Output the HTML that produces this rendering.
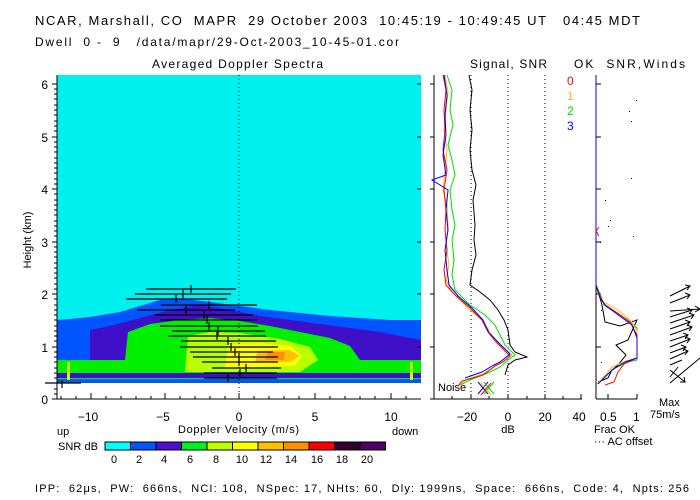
<!DOCTYPE html>
<html><head><meta charset="utf-8"><style>
body{margin:0;background:#fff}
svg{display:block;font-family:"Liberation Sans",sans-serif;font-size:12px}
text{white-space:pre}
</style></head><body>
<svg width="700" height="500" viewBox="0 0 700 500" xmlns="http://www.w3.org/2000/svg" xml:space="preserve">
<rect width="700" height="500" fill="#fff"/>
<text x="35" y="25" font-size="13" textLength="605" lengthAdjust="spacing">NCAR, Marshall, CO  MAPR  29 October 2003  10:45:19 - 10:49:45 UT   04:45 MDT</text>
<text x="35" y="46" font-size="12" textLength="364" lengthAdjust="spacing">Dwell  0 -  9   /data/mapr/29-Oct-2003_10-45-01.cor</text>
<text x="152" y="68" textLength="171" lengthAdjust="spacing">Averaged Doppler Spectra</text>
<text x="470" y="68" textLength="77" lengthAdjust="spacing">Signal, SNR</text>
<text x="574" y="68" textLength="111" lengthAdjust="spacing">OK  SNR,Winds</text>
<text x="567" y="85" fill="#f00">0</text>
<text x="567" y="100" fill="#fb0">1</text>
<text x="567" y="115" fill="#0d0">2</text>
<text x="567" y="130" fill="#00f">3</text>

<!-- main spectra -->
<rect x="57" y="75" width="364" height="308" fill="#00f0f0"/>
<path d="M57,383 L57,320 L70,319 L90,317 L120,312 L140,306 L160,300 L185,299 L210,302 L240,306 L270,310 L300,313 L330,316 L360,318 L390,320 L421,320 L421,383 Z" fill="#0055ff"/>
<path d="M90,372 L90,330 L110,326 L140,318 L170,310 L200,305 L230,310 L260,316 L290,320 L320,324 L350,328 L380,332 L400,336 L421,340 L421,372 Z" fill="#4010c8"/>
<path d="M57,360 L125,360 L128,332 L150,324 L180,320 L210,318 L240,321 L270,326 L300,332 L330,338 L350,346 L360,360 L421,360 L421,380 L57,380 Z" fill="#00f000"/>
<path d="M185,372 L188,336 L210,332 L240,333 L280,339 L310,347 L318,360 L300,372 Z" fill="#b8ff00"/>
<path d="M225,368 L228,344 L260,343 L290,346 L302,356 L295,366 Z" fill="#ffff00"/>
<path d="M255,362 L258,351 L290,350 L300,356 L290,362 Z" fill="#ffc000"/>
<path d="M265,360 L268,352 L285,352 L284,360 Z" fill="#ff9000"/>
<rect x="57" y="373" width="364" height="5" fill="#4010c8"/>
<rect x="57" y="379" width="364" height="4" fill="#0055ff"/>
<rect x="67" y="362" width="3" height="18" fill="#c0ff00"/>
<rect x="410" y="362" width="3" height="18" fill="#c0ff00"/>
<line x1="239" y1="75" x2="239" y2="398" stroke="#000" stroke-dasharray="1,3"/>
<g stroke="#000" stroke-width="1.2">
<line x1="146" y1="289" x2="236" y2="289"/><line x1="191" y1="285" x2="191" y2="293"/>
<line x1="135" y1="294" x2="231" y2="294"/><line x1="183" y1="290" x2="183" y2="298"/>
<line x1="126" y1="299" x2="227" y2="299"/><line x1="176" y1="295" x2="176" y2="303"/>
<line x1="161" y1="305" x2="257" y2="305"/><line x1="209" y1="301" x2="209" y2="309"/>
<line x1="137" y1="310" x2="235" y2="310"/><line x1="186" y1="306" x2="186" y2="314"/>
<line x1="155" y1="315" x2="253" y2="315"/><line x1="204" y1="311" x2="204" y2="319"/>
<line x1="160" y1="320" x2="257" y2="320"/><line x1="207" y1="316" x2="207" y2="324"/>
<line x1="160" y1="326" x2="258" y2="326"/><line x1="209" y1="322" x2="209" y2="330"/>
<line x1="172" y1="331" x2="265" y2="331"/><line x1="218" y1="327" x2="218" y2="335"/>
<line x1="168" y1="336" x2="266" y2="336"/><line x1="217" y1="332" x2="217" y2="340"/>
<line x1="181" y1="341" x2="276" y2="341"/><line x1="228" y1="337" x2="228" y2="345"/>
<line x1="180" y1="347" x2="278" y2="347"/><line x1="231" y1="343" x2="231" y2="351"/>
<line x1="190" y1="352" x2="273" y2="352"/><line x1="235" y1="348" x2="235" y2="356"/>
<line x1="193" y1="357" x2="278" y2="357"/><line x1="239" y1="353" x2="239" y2="361"/>
<line x1="202" y1="362" x2="278" y2="362"/><line x1="239" y1="358" x2="239" y2="366"/>
<line x1="212" y1="368" x2="281" y2="368"/><line x1="246" y1="364" x2="246" y2="372"/>
<line x1="204" y1="373" x2="277" y2="373"/><line x1="240" y1="369" x2="240" y2="377"/>
<line x1="204" y1="378" x2="277" y2="378"/><line x1="228" y1="374" x2="228" y2="382"/>
<line x1="45" y1="383" x2="81" y2="383"/><line x1="62" y1="380" x2="62" y2="388"/>
</g>
<!-- main axes -->
<g stroke="#000" fill="none">
<line x1="57" y1="75" x2="57" y2="399"/>
<line x1="57" y1="399" x2="421" y2="399"/>
<path d="M52,84h5M52,137h5M52,189h5M52,242h5M52,294h5M52,347h5M52,399h5"/>
<path d="M54,89h3M54,94h3M54,99h3M54,105h3M54,110h3M54,115h3M54,121h3M54,126h3M54,131h3M54,142h3M54,147h3M54,152h3M54,158h3M54,163h3M54,168h3M54,173h3M54,179h3M54,184h3M54,194h3M54,200h3M54,205h3M54,210h3M54,215h3M54,221h3M54,226h3M54,231h3M54,236h3M54,247h3M54,252h3M54,257h3M54,263h3M54,268h3M54,273h3M54,278h3M54,284h3M54,289h3M54,299h3M54,305h3M54,310h3M54,315h3M54,320h3M54,326h3M54,331h3M54,336h3M54,341h3M54,352h3M54,357h3M54,362h3M54,368h3M54,373h3M54,378h3M54,383h3M54,389h3M54,394h3"/>
<path d="M421,84h-4M421,137h-4M421,189h-4M421,242h-4M421,294h-4M421,347h-4M421,399h-4"/>
<path d="M91,399v-6M165,399v-6M239,399v-6M315,399v-6M391,399v-6"/>
<path d="M61,399v-3M76,399v-3M106,399v-3M121,399v-3M136,399v-3M151,399v-3M180,399v-3M195,399v-3M210,399v-3M225,399v-3M254,399v-3M269,399v-3M284,399v-3M299,399v-3M330,399v-3M345,399v-3M360,399v-3M375,399v-3M406,399v-3"/>
</g>
<g text-anchor="end"><text x="48" y="89">6</text><text x="48" y="142">5</text><text x="48" y="194">4</text><text x="48" y="247">3</text><text x="48" y="299">2</text><text x="48" y="352">1</text><text x="48" y="404">0</text></g>
<text transform="translate(31,240) rotate(-90)" text-anchor="middle" font-size="11">Height (km)</text>
<g text-anchor="middle"><text x="88" y="421">−10</text><text x="163" y="421">−5</text><text x="239" y="421">0</text><text x="315" y="421">5</text><text x="391" y="421">10</text></g>
<text x="178" y="433" font-size="11" textLength="121" lengthAdjust="spacing">Doppler Velocity (m/s)</text>
<text x="57" y="435" font-size="11">up</text>
<text x="392" y="435" font-size="11">down</text>
<text x="58" y="450" font-size="11" textLength="40" lengthAdjust="spacing">SNR dB</text>
<!-- colorbar -->
<g stroke="#000" stroke-width="1">
<rect x="105" y="442" width="25.5" height="8" fill="#00ffff"/>
<rect x="130.5" y="442" width="25.5" height="8" fill="#0055ff"/>
<rect x="156" y="442" width="25.5" height="8" fill="#4d10d0"/>
<rect x="181.5" y="442" width="25.5" height="8" fill="#00f020"/>
<rect x="207" y="442" width="25.5" height="8" fill="#c0ff00"/>
<rect x="232.5" y="442" width="25.5" height="8" fill="#ffff00"/>
<rect x="258" y="442" width="25.5" height="8" fill="#ffc000"/>
<rect x="283.5" y="442" width="25.5" height="8" fill="#ff9000"/>
<rect x="309" y="442" width="25.5" height="8" fill="#ff0000"/>
<rect x="334.5" y="442" width="25.5" height="8" fill="#300030"/>
<rect x="360" y="442" width="25.5" height="8" fill="#500060"/>
</g>
<g text-anchor="middle" font-size="11"><text x="114" y="463">0</text><text x="139" y="463">2</text><text x="164" y="463">4</text><text x="190" y="463">6</text><text x="216" y="463">8</text><text x="242" y="463">10</text><text x="266" y="463">12</text><text x="291" y="463">14</text><text x="317" y="463">16</text><text x="342" y="463">18</text><text x="367" y="463">20</text></g>
<text x="35" y="492" font-size="11" textLength="654" lengthAdjust="spacing">IPP:  62μs,  PW:  666ns,  NCI: 108,  NSpec: 17, NHts: 60,  Dly: 1999ns,  Space:  666ns,  Code: 4,  Npts: 256</text>

<!-- signal panel -->
<g stroke="#000" fill="none">
<line x1="434" y1="75" x2="434" y2="399"/>
<line x1="434" y1="399" x2="582" y2="399"/>
<path d="M471,399v-5M508,399v-5M545,399v-5M581,399v-5M452,399v-3M489,399v-3M527,399v-3M563,399v-3"/>
<path d="M430,84h4M430,137h4M430,189h4M430,242h4M430,294h4M430,347h4M430,399h4"/>
</g>
<g stroke="#000" stroke-dasharray="1,3"><line x1="471" y1="75" x2="471" y2="399"/><line x1="508" y1="75" x2="508" y2="399"/><line x1="545" y1="75" x2="545" y2="399"/></g>
<g text-anchor="middle"><text x="467" y="421">−20</text><text x="508" y="421">0</text><text x="545" y="421">20</text><text x="579" y="421">40</text></g>
<text x="508" y="433" text-anchor="middle" font-size="11">dB</text>
<text x="438" y="391" font-size="11">Noise</text>
<polyline fill="none" stroke="#000" points="469,75 472,90 470,110 472,130 470,150 472,170 476,185 473,200 475,225 474,240 476,255 472,270 470,285 480,292 490,300 498,310 504,320 508,330 510,345 515,352 527,357 515,360 508,365 505,375"/>
<polyline fill="none" stroke="#0d0" points="447,75 452,90 450,110 453,125 448,145 452,160 455,175 450,190 452,210 455,225 452,240 454,260 452,275 455,290 470,305 485,315 495,325 500,335 505,345 515,355 508,360 500,367 490,372 470,380 460,385"/>
<polyline fill="none" stroke="#fb0" points="445,75 448,92 446,110 444,130 447,150 445,170 443,190 447,205 448,225 446,245 449,265 446,280 452,292 468,308 482,320 490,332 497,342 512,355 505,360 497,365 485,373 466,380 458,386"/>
<polyline fill="none" stroke="#f00" points="443,75 446,90 444,110 445,130 443,150 447,170 444,190 446,210 445,230 447,250 444,270 446,285 455,295 470,308 482,320 488,332 496,342 510,356 503,362 495,366 483,375 462,381 458,386"/>
<polyline fill="none" stroke="#00f" points="444,75 447,95 445,115 446,135 443,155 446,175 432,180 448,190 446,210 448,230 445,250 447,270 449,285 458,296 472,308 483,320 489,333 499,343 510,354 500,362 494,365 482,372 465,378"/>
<g stroke-width="1"><path d="M478,382l10,12M478,394l10,-12" stroke="#00f"/><path d="M484,382l10,12M484,394l10,-12" stroke="#0d0"/><path d="M481,383l10,12" stroke="#fb0"/><path d="M481,395l10,-12" stroke="#f00"/></g>

<!-- OK panel -->
<line x1="596" y1="75" x2="596" y2="285" stroke="#00f"/>
<g stroke="#000" fill="none">
<line x1="596" y1="285" x2="596" y2="399"/>
<line x1="596" y1="399" x2="637" y2="399"/>
<path d="M608,399v-5M637,399v-5"/>
<path d="M596,84h5M596,137h5M596,189h5M596,242h5M596,294h5M596,347h5"/>
</g>
<polyline fill="none" stroke="#000" points="596,285 600,298 602,305 605,322 620,326 637,320 628,340 616,345 626,355 618,365 612,370 608,378 598,382"/>
<polyline fill="none" stroke="#0d0" points="596,285 601,296 604,305 615,312 628,320 637,328 637,360 628,362 615,368 603,378 598,383"/>
<polyline fill="none" stroke="#fb0" points="596,285 599,296 604,302 618,310 630,320 637,330 637,358 626,361 612,367 601,380 597,384"/>
<polyline fill="none" stroke="#f00" points="596,285 600,296 604,304 616,312 630,322 637,335 637,358 624,364 618,372 614,382 605,385"/>
<polyline fill="none" stroke="#00f" points="596,285 600,298 606,306 617,314 632,325 637,338 637,358 625,362 612,370 602,380 598,384"/>
<polyline fill="none" stroke="#f00" points="599,227 596,231 599,236"/>
<g fill="#000"><rect x="636" y="100" width="1" height="1"/><rect x="629" y="111" width="1" height="1"/><rect x="631" y="121" width="1" height="1"/><rect x="631" y="178" width="1" height="1"/><rect x="605" y="200" width="1" height="1"/><rect x="610" y="220" width="1" height="1"/><rect x="608" y="226" width="1" height="1"/><rect x="633" y="236" width="1" height="1"/><rect x="600" y="242" width="1" height="1"/><rect x="601" y="310" width="1" height="1"/><rect x="601" y="362" width="1" height="1"/></g>
<text x="600" y="421">0.5</text><text x="633" y="421">1</text>
<text x="594" y="433" font-size="11">Frac OK</text>
<text x="594" y="445" font-size="11">··· AC offset</text>
<text x="659" y="406" font-size="11">Max</text>
<text x="650" y="418" font-size="11">75m/s</text>
<!-- wind arrows -->
<g stroke="#000" fill="none">
<path d="M670,296l20,-10m-5,-1l5,1l-3,4"/>
<path d="M670,303l20,-8m-5,-2l5,2l-3,4"/>
<path d="M670,311l30,-2m-5,-3l5,3l-5,3"/>
<path d="M670,317l22,-7m-5,-2l5,2l-3,4"/>
<path d="M670,323l24,-8m-5,-2l5,2l-3,4"/>
<path d="M670,329l20,-7m-5,-2l5,2l-3,4"/>
<path d="M670,335l22,-8m-5,-2l5,2l-3,4"/>
<path d="M670,341l18,-6m-5,-2l5,2l-3,4"/>
<path d="M670,347l20,-8m-5,-2l5,2l-3,4"/>
<path d="M670,353l16,-6m-5,-2l5,2l-3,4"/>
<path d="M670,359l18,-8m-5,-2l5,2l-3,4"/>
<path d="M670,365l12,-5"/>
<path d="M670,383l30,-25"/>
<path d="M670,370l15,12m-1,-5l1,5l-5,0"/>
<path d="M670,377l8,-10"/>
</g>
</svg>
</body></html>
